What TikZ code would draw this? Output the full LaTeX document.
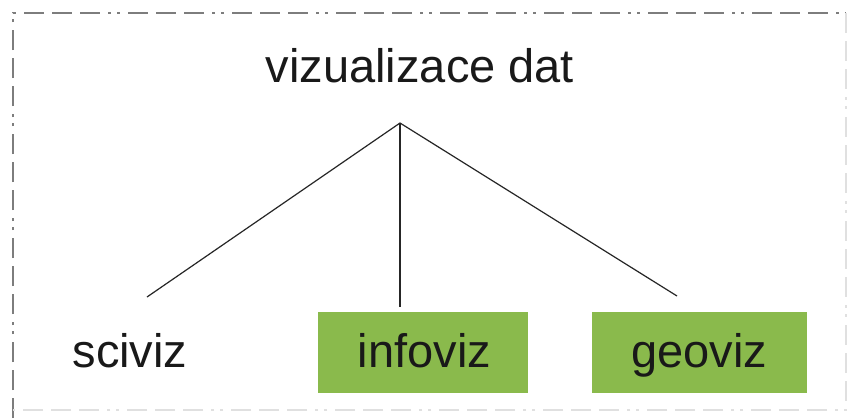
\documentclass[tikz,border=0pt]{standalone}
\usepackage{fontspec}
\setmainfont{Liberation Sans}
\definecolor{boxgreen}{RGB}{138,186,76}
\definecolor{framegray}{RGB}{125,125,125}
\begin{document}
\begin{tikzpicture}[x=1pt,y=-1pt,
  lbl/.style={font=\fontsize{47}{56}\selectfont, inner sep=0pt, text=black!90},
  greenbox/.style={lbl, fill=boxgreen, minimum width=210pt, minimum height=81pt, text height=29pt, text depth=0pt},
  conn/.style={draw=black!85, line width=1.2pt},
  frame/.style={line width=1.8pt, dash pattern=on 20pt off 8pt on 20pt off 8pt on 20pt off 8pt on 3pt off 6pt on 3pt off 8pt}]
\useasboundingbox (0,0) rectangle (850,418);
\fill[white] (0,0) rectangle (850,418);
% frame
\draw[frame, draw=framegray] (13,418) -- (13,13) -- (846,13);
\draw[frame, draw=black!12] (846,13) -- (846,410) -- (13,410);
% nodes
\node[lbl, anchor=base] (title) at (420,82) {vizualizace dat};
\node[lbl, anchor=base] (sciviz) at (130,367) {sciviz};
\node[greenbox] (infoviz) at (423,352.5) {\hspace*{3pt}infoviz};
\node[greenbox, minimum width=215pt] (geoviz) at (699.5,352.5) {geoviz};
% connectors
\coordinate (apex) at (400,123);
\coordinate (endL) at (147,297);
\coordinate (endM) at (400,307);
\coordinate (endR) at (677,296);
\draw[conn] (endL) -- (apex) -- (endR);
\draw[conn] (apex) -- (endM);
\end{tikzpicture}
\end{document}
